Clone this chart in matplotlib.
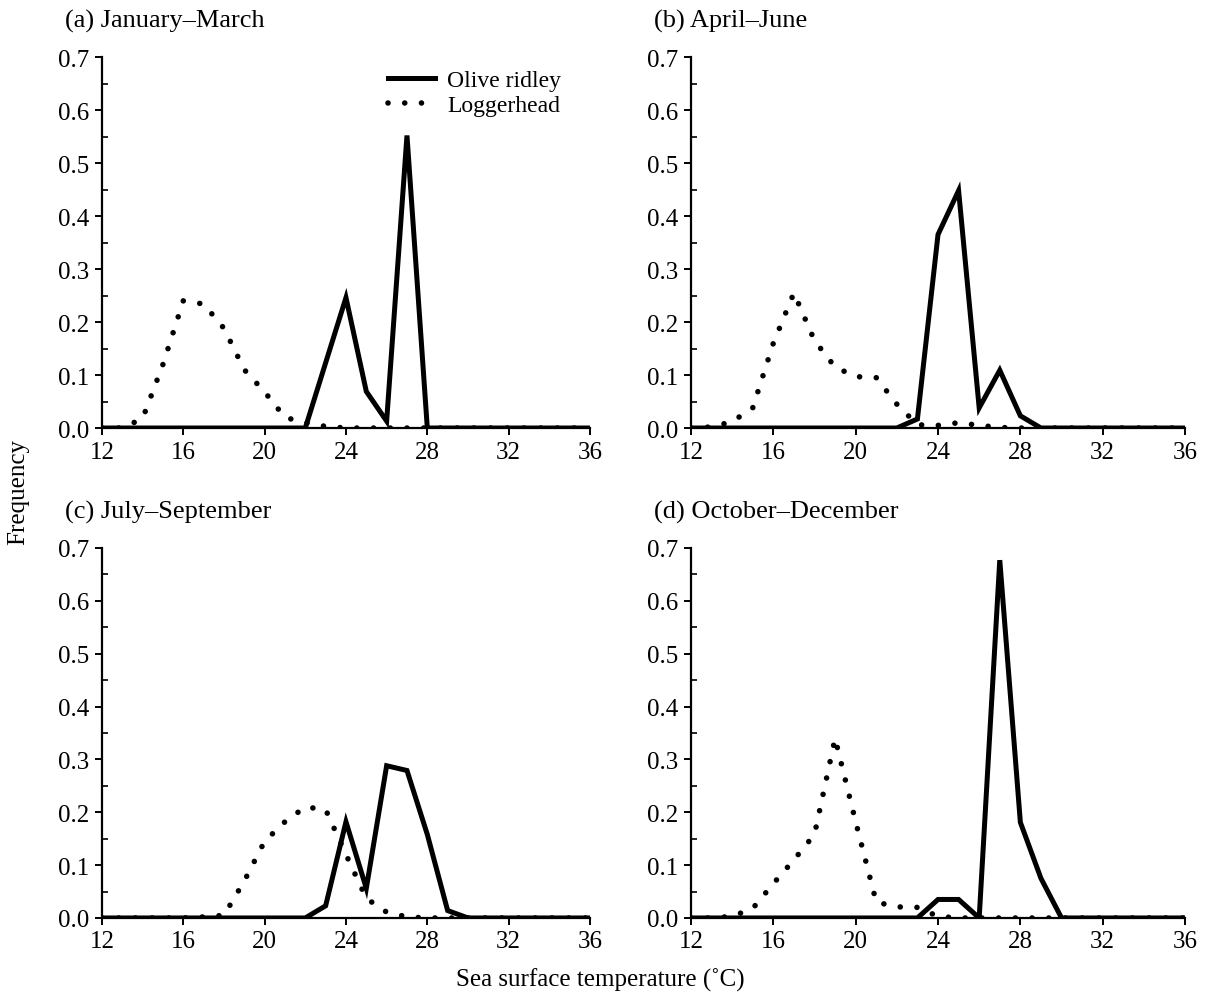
import numpy as np
import matplotlib
matplotlib.use("Agg")
import matplotlib.pyplot as plt

plt.rcParams['font.family'] = ['Liberation Serif', 'DejaVu Serif']
plt.rcParams['font.size'] = 18

# temperature bins (deg C)
temp = np.arange(12, 37)

# frequency per season, one value per degree from 12 to 36
olive_jm = [0, 0, 0, 0, 0, 0, 0, 0, 0, 0, 0, 0.123, 0.246, 0.069, 0.013, 0.552, 0,
            0, 0, 0, 0, 0, 0, 0, 0]
logger_jm = [0, 0, 0.018, 0.12, 0.24, 0.234, 0.188, 0.11, 0.068, 0.02, 0.01, 0.003, 0,
             0, 0, 0, 0, 0, 0, 0, 0, 0, 0, 0, 0]

olive_aj = [0, 0, 0, 0, 0, 0, 0, 0, 0, 0, 0, 0.017, 0.365, 0.448, 0.038, 0.109, 0.023,
            0, 0, 0, 0, 0, 0, 0, 0]
logger_aj = [0, 0.002, 0.012, 0.038, 0.16, 0.255, 0.165, 0.115, 0.097, 0.095, 0.045, 0.006,
             0.005, 0.01, 0.005, 0.001, 0, 0, 0, 0, 0, 0, 0, 0, 0]

olive_js = [0, 0, 0, 0, 0, 0, 0, 0, 0, 0, 0, 0.023, 0.182, 0.056, 0.288, 0.279, 0.158,
            0.014, 0, 0, 0, 0, 0, 0, 0]
logger_js = [0, 0, 0, 0, 0, 0.002, 0.005, 0.07, 0.145, 0.182, 0.21, 0.205, 0.12, 0.037,
             0.011, 0.002, 0, 0, 0, 0, 0, 0, 0, 0, 0]

olive_od = [0, 0, 0, 0, 0, 0, 0, 0, 0, 0, 0, 0, 0.035, 0.035, 0, 0.677, 0.181, 0.075,
            0, 0, 0, 0, 0, 0, 0]
logger_od = [0, 0, 0.003, 0.018, 0.065, 0.11, 0.158, 0.34, 0.182, 0.03, 0.021, 0.02,
             0.003, 0, 0, 0, 0, 0, 0, 0, 0, 0, 0, 0, 0]

titles = ['(a) January\u2013March', '(b) April\u2013June',
          '(c) July\u2013September', '(d) October\u2013December']
olive = [olive_jm, olive_aj, olive_js, olive_od]
logger = [logger_jm, logger_aj, logger_js, logger_od]

fig = plt.figure(figsize=(12.08, 10.04), dpi=100)

# axes boxes in figure fractions
boxes = [
    [0.0844, 0.5727, 0.404, 0.3695],
    [0.572, 0.5727, 0.409, 0.3695],
    [0.0844, 0.0847, 0.404, 0.3685],
    [0.572, 0.0847, 0.409, 0.3685],
]

for i in range(4):
    ax = fig.add_axes(boxes[i])
    ax.plot(temp, logger[i], color='black', lw=4.0, linestyle=(0, (0.01, 3.0)),
            dash_capstyle='round', label='Loggerhead', zorder=2)
    ax.plot(temp, olive[i], color='black', lw=3.6, solid_joinstyle='miter',
            label='Olive ridley', zorder=3)
    ax.set_xlim(12, 36)
    ax.set_ylim(0, 0.7)
    ax.set_xticks(np.arange(12, 37, 4))
    ax.set_yticks(np.arange(0, 0.71, 0.1))
    ax.set_yticks(np.arange(0.05, 0.7, 0.1), minor=True)
    ax.yaxis.set_major_formatter(matplotlib.ticker.FormatStrFormatter('%.1f'))
    for s in ['top', 'right']:
        ax.spines[s].set_visible(False)
    for s in ['left', 'bottom']:
        ax.spines[s].set_linewidth(1.6)
    ax.tick_params(axis='both', which='major', direction='out', length=5, width=1.4,
                   pad=4, labelsize=18)
    ax.tick_params(axis='y', which='minor', direction='in', length=4, width=1.2)
    ax.text(-0.075, 1.068, titles[i], transform=ax.transAxes, fontsize=19,
            ha='left', va='bottom')
    if i == 0:
        h, l = ax.get_legend_handles_labels()
        ax.legend(h[::-1], l[::-1], loc='upper left', bbox_to_anchor=(0.543, 1.024),
                  frameon=False, handlelength=2.0, labelspacing=0.15,
                  handletextpad=0.5, fontsize=17)

fig.text(0.015, 0.51, 'Frequency', rotation=90, ha='center', va='center', fontsize=18)
fig.text(0.497, 0.024, 'Sea surface temperature (\u02daC)', ha='center', va='center',
         fontsize=18)

fig.savefig('out.png', dpi=100)
